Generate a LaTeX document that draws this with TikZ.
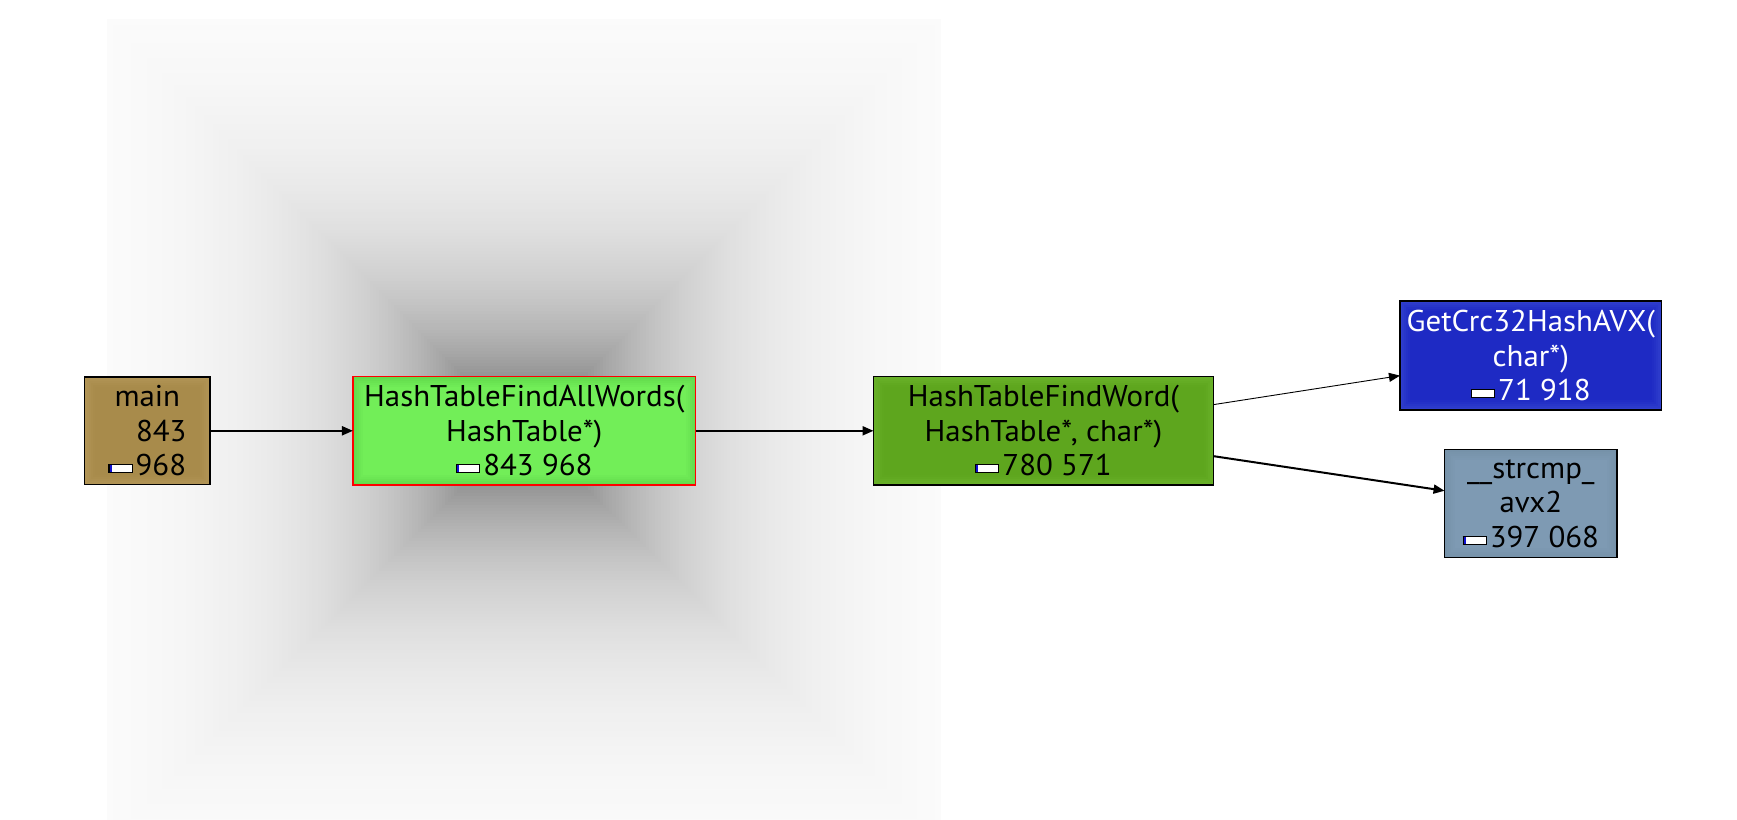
\documentclass[tikz,border=0pt]{standalone}
\usepackage{fontspec}
\setmainfont[FakeStretch=1.03]{PT Sans}
\usetikzlibrary{arrows.meta}
\definecolor{ubarblue}{HTML}{1010D0}
\definecolor{maincore}{HTML}{A88B4B}
\definecolor{mainrim}{HTML}{B29657}
\definecolor{allcore}{HTML}{72EE58}
\definecolor{allrim}{HTML}{62D94C}
\definecolor{wordcore}{HTML}{5EA61E}
\definecolor{wordrim}{HTML}{6AB22A}
\definecolor{crccore}{HTML}{1E2AC4}
\definecolor{crcrim}{HTML}{3242CE}
\definecolor{cmpcore}{HTML}{7E9AB3}
\definecolor{cmprim}{HTML}{7692A8}
\newcommand\ubar[1]{{\color{black}\raisebox{3.5pt}{\setlength{\fboxsep}{0pt}\setlength{\fboxrule}{1.1pt}\fbox{\textcolor{ubarblue}{\rule{#1}{7pt}}\textcolor{white}{\rule{\dimexpr22pt-#1\relax}{7pt}}}}}\hspace{3pt}}
\tikzset{
  fn/.style={draw=black, line width=1.3pt, rectangle, inner sep=0pt, outer sep=0pt,
    align=center, font=\fontsize{30}{34.5}\selectfont},
  glow/.style={path picture={
    \foreach \k/\o in {2/0.9,4/0.7,6/0.5,8/0.32,10/0.16}{
      \draw[#1,line width=2pt,opacity=\o]
        ([shift={(\k-1,\k-1)}]path picture bounding box.north west) rectangle
        ([shift={(1-\k,1-\k)}]path picture bounding box.south east);
    }}},
  edge/.style={draw=black, line width=2pt, -{Triangle[length=11pt,width=9pt]}},
  thinedge/.style={draw=black, line width=0.9pt, -{Triangle[length=11pt,width=9pt]}}
}
\begin{document}
\begin{tikzpicture}[x=1pt,y=-1pt]
\useasboundingbox (0,0) rectangle (1737,819);
\fill[white] (0,0) rectangle (1737,819);
% soft shadow behind the selected function
\foreach \i in {0,...,120}{
  \pgfmathsetmacro\d{362*(1-\i/120)}
  \pgfmathsetmacro\g{45*exp(-\d/125)-0.8}
  \fill[black!\g] (524.3-55-\d, 430.8-50-\d) rectangle (524.3+55+\d, 430.8+50+\d);
}
\node[fn, fill=maincore, glow=mainrim, minimum width=125.5pt, minimum height=107.5pt]
  (main) at (147.3,430.8) {main\\\hspace*{28pt}843\\\ubar{2pt}968};
\node[fn, draw=red, fill=allcore, glow=allrim, minimum width=342.7pt, minimum height=108.3pt]
  (all) at (524.3,430.8) {HashTableFindAllWords(\\HashTable*)\\\ubar{2pt}843 968};
\node[fn, fill=wordcore, glow=wordrim, minimum width=340pt, minimum height=108.3pt]
  (word) at (1043.5,430.8) {HashTableFindWord(\\HashTable*, char*)\\\ubar{2pt}780 571};
\node[fn, fill=crccore, glow=crcrim, text=white, minimum width=261.7pt, minimum height=109pt]
  (crc) at (1530.8,355.5) {GetCrc32HashAVX(\\char*)\\\ubar{0pt}71 918};
\node[fn, fill=cmpcore, glow=cmprim, minimum width=172.5pt, minimum height=108pt]
  (cmp) at (1530.8,503.6) {\_\_strcmp\_\\avx2\\\ubar{2pt}397 068};
\draw[edge] (main) -- (all);
\draw[edge] (all) -- (word);
\draw[thinedge] (word) -- (crc);
\draw[edge] (word) -- (cmp);
\end{tikzpicture}
\end{document}
